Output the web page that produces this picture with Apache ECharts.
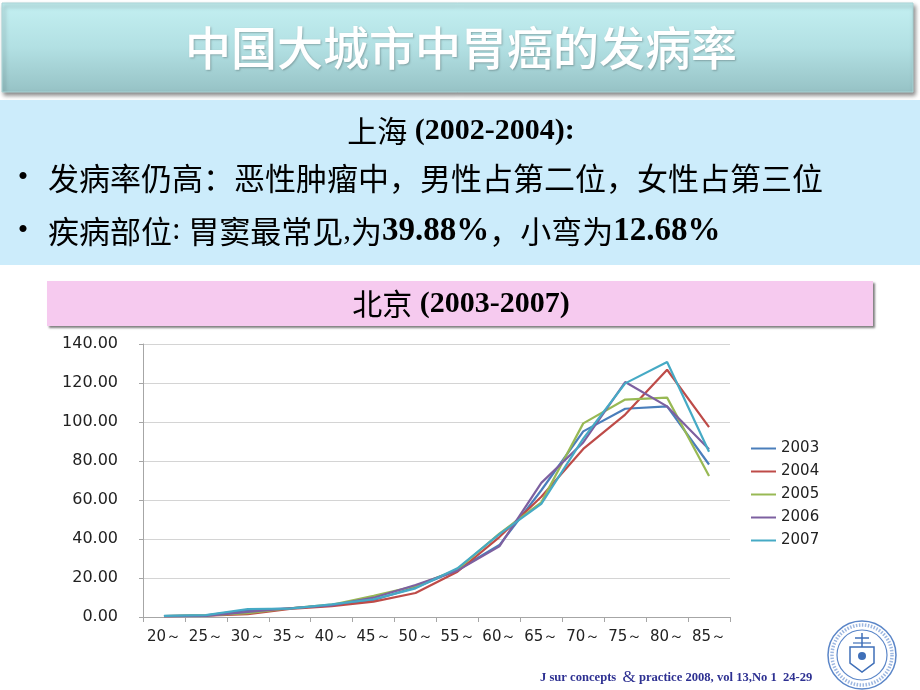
<!DOCTYPE html>
<html>
<head>
<meta charset="utf-8">
<script src="https://cdn.jsdelivr.net/npm/echarts@6/dist/echarts.min.js"></script>
<style>
html,body{margin:0;padding:0;background:#ffffff;}
#c{width:920px;height:690px;}
</style>
</head>
<body>
<div id="c"></div>
<script>
// ---- data ----
const categories = ['20～','25～','30～','35～','40～','45～','50～','55～','60～','65～','70～','75～','80～','85～'];
const years = ['2003','2004','2005','2006','2007'];
const s2003 = [0.5, 0.8, 3.5, 4.5, 6.0, 8.7, 15.2, 24.1, 36.9, 65.0, 95.2, 106.8, 108.0, 78.2];
const s2004 = [0.4, 0.7, 1.5, 4.2, 5.5, 7.9, 12.3, 23.2, 41.0, 61.7, 86.2, 103.8, 126.8, 97.4];
const s2005 = [0.5, 0.8, 2.0, 4.5, 6.3, 10.8, 15.9, 24.4, 42.8, 58.8, 99.3, 111.5, 112.5, 72.3];
const s2006 = [0.4, 0.6, 2.6, 4.5, 6.0, 9.9, 16.4, 23.8, 36.2, 68.8, 89.5, 120.5, 108.0, 86.0];
const s2007 = [0.6, 1.0, 4.1, 4.3, 6.5, 9.1, 14.7, 25.0, 42.5, 58.0, 91.5, 119.8, 130.8, 84.7];
const yMin = 0, yMax = 140, yStep = 20;

const seriesData = [s2003, s2004, s2005, s2006, s2007];
const colors = ['#4A7EBB', '#BE4B48', '#98B954', '#7D60A0', '#46AAC5'];

const CJK = '"Noto Sans CJK SC", "Noto Sans", sans-serif';
const SERIF = '"Liberation Serif", "DejaVu Serif", serif';
const SANS = '"DejaVu Sans", Verdana, sans-serif';

const chart = echarts.init(document.getElementById('c'), null, {renderer: 'canvas'});

const option = {
  backgroundColor: '#ffffff',
  animation: false,
  color: colors,
  grid: {left: 143, right: 190, top: 344, bottom: 73, containLabel: false},
  legend: {
    orient: 'vertical',
    left: 746,
    top: 436,
    itemWidth: 25,
    itemHeight: 2,
    itemGap: 8,
    icon: 'rect',
    textStyle: {fontFamily: SANS, fontSize: 15, color: '#222'},
    data: years
  },
  xAxis: {
    type: 'category',
    data: categories,
    boundaryGap: true,
    axisLine: {lineStyle: {color: '#A6A6A6', width: 1}},
    axisTick: {show: true, length: 5, lineStyle: {color: '#A6A6A6'}},
    axisLabel: {fontFamily: SANS, fontSize: 15, color: '#222', margin: 13, interval: 0}
  },
  yAxis: {
    type: 'value',
    min: yMin, max: yMax, interval: yStep,
    axisLine: {show: true, lineStyle: {color: '#A6A6A6', width: 1}},
    axisTick: {show: true, length: 4, lineStyle: {color: '#A6A6A6'}},
    splitLine: {lineStyle: {color: '#D4D4D4', width: 1.2}},
    axisLabel: {fontFamily: SANS, fontSize: 16, color: '#222', margin: 25,
      formatter: v => v.toFixed(2)}
  },
  series: years.map((y, i) => ({
    name: y,
    type: 'line',
    data: seriesData[i],
    symbol: 'none',
    smooth: false,
    lineStyle: {width: 2.2, color: colors[i]},
    itemStyle: {color: colors[i]}
  })),
  graphic: [
    // title bar
    {type: 'rect', shape: {x: 2, y: 3, width: 911, height: 89},
      style: {fill: new echarts.graphic.LinearGradient(0, 0, 0, 1, [
        {offset: 0, color: '#C4F0F2'}, {offset: 0.5, color: '#B2E0E3'}, {offset: 1, color: '#96C2C5'}]),
        stroke: '#A9D4D6', lineWidth: 1,
        shadowBlur: 4, shadowOffsetX: 2, shadowOffsetY: 3, shadowColor: 'rgba(0,0,0,0.45)'}},
    {type: 'text', x: 461, y: 48,
      style: {text: '中国大城市中胃癌的发病率', font: '500 46px ' + CJK, fill: '#ffffff',
        align: 'center', verticalAlign: 'middle',
        textShadowBlur: 2, textShadowColor: 'rgba(0,0,0,0.25)', textShadowOffsetX: 1, textShadowOffsetY: 1}},
    // light blue box
    {type: 'rect', shape: {x: 0, y: 100, width: 920, height: 165}, style: {fill: '#CCECFB'}},
    {type: 'text', x: 461, y: 131,
      style: {text: '{c|上海}{s| (2002-2004):}', align: 'center', verticalAlign: 'middle',
        rich: {c: {fontFamily: CJK, fontSize: 30, fill: '#000', color: '#000'},
               s: {fontFamily: SERIF, fontSize: 30, fontWeight: 'bold', fill: '#000', color: '#000'}}}},
    {type: 'text', x: 23, y: 178,
      style: {text: '•', font: '30px ' + SERIF, fill: '#000', align: 'center', verticalAlign: 'middle'}},
    {type: 'text', x: 48, y: 178,
      style: {text: '发病率仍高：恶性肿瘤中，男性占第二位，女性占第三位', font: '31px ' + CJK, fill: '#000',
        align: 'left', verticalAlign: 'middle'}},
    {type: 'text', x: 23, y: 231,
      style: {text: '•', font: '30px ' + SERIF, fill: '#000', align: 'center', verticalAlign: 'middle'}},
    {type: 'text', x: 48, y: 231,
      style: {text: '{c|疾病部位}{s|: }{c|胃窦最常见}{s|,}{c|为}{b|39.88%}{c|，小弯为}{b|12.68%}',
        align: 'left', verticalAlign: 'middle',
        rich: {c: {fontFamily: CJK, fontSize: 31, fill: '#000', color: '#000'},
               s: {fontFamily: SERIF, fontSize: 31, fill: '#000', color: '#000'},
               b: {fontFamily: SERIF, fontSize: 33, fontWeight: 'bold', fill: '#000', color: '#000'}}}},
    // pink header
    {type: 'rect', shape: {x: 47, y: 281, width: 826, height: 45},
      style: {fill: '#F6CAEF', shadowBlur: 2, shadowOffsetX: 2, shadowOffsetY: 2, shadowColor: 'rgba(0,0,0,0.5)'}},
    {type: 'text', x: 461, y: 304,
      style: {text: '{c|北京}{s| (2003-2007)}', align: 'center', verticalAlign: 'middle',
        rich: {c: {fontFamily: CJK, fontSize: 30, fill: '#000', color: '#000'},
               s: {fontFamily: SERIF, fontSize: 30, fontWeight: 'bold', fill: '#000', color: '#000'}}}},
    // footer citation
    {type: 'text', x: 540, y: 678,
      style: {text: '{a|J sur concepts  }{b|&}{a| practice 2008, vol 13,No 1  24-29}', align: 'left', verticalAlign: 'middle',
        rich: {a: {fontFamily: SERIF, fontSize: 12.6, fontWeight: 'bold', fill: '#2E3192', color: '#2E3192'},
               b: {fontFamily: SERIF, fontSize: 17, fill: '#2E3192', color: '#2E3192'}}}},
    // logo seal
    {type: 'circle', shape: {cx: 862, cy: 655, r: 34}, style: {fill: '#ffffff', stroke: '#5B86C8', lineWidth: 1.5}},
    {type: 'circle', shape: {cx: 862, cy: 655, r: 25}, style: {fill: 'none', stroke: '#5B86C8', lineWidth: 1.2}},
    {type: 'circle', shape: {cx: 862, cy: 655, r: 30}, style: {fill: 'none', stroke: '#9DB7E0', lineWidth: 3.5, lineDash: [1.5, 1.5]}},
    {type: 'polygon', shape: {points: [[850, 647], [874, 647], [874, 663], [862, 672], [850, 663]]},
      style: {fill: '#ffffff', stroke: '#3F6FB8', lineWidth: 1.5}},
    {type: 'circle', shape: {cx: 862, cy: 656, r: 4}, style: {fill: '#3F6FB8'}},
    {type: 'line', shape: {x1: 862, y1: 633, x2: 862, y2: 647}, style: {stroke: '#3F6FB8', lineWidth: 1.5}},
    {type: 'line', shape: {x1: 855, y1: 638, x2: 869, y2: 638}, style: {stroke: '#3F6FB8', lineWidth: 1.5}},
    {type: 'line', shape: {x1: 853, y1: 643, x2: 871, y2: 643}, style: {stroke: '#3F6FB8', lineWidth: 1.2}}
  ]
};
chart.setOption(option);
</script>
</body>
</html>
